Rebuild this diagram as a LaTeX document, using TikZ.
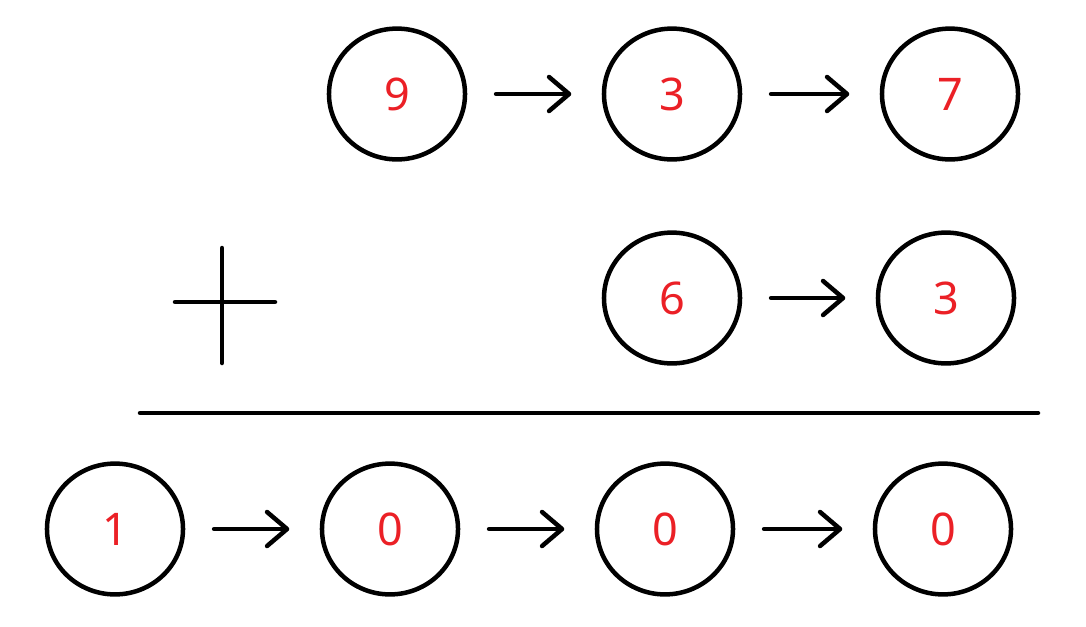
\documentclass[tikz,border=0pt]{standalone}
\usepackage{fontspec}
\setmainfont{Noto Sans}
\usetikzlibrary{arrows.meta,shapes.geometric}
\definecolor{digitred}{RGB}{235,32,38}
\tikzset{
	digit/.style={ellipse,draw,line width=3.2pt,minimum width=3.4cm,minimum height=3.27cm,inner sep=0pt,text=digitred,font=\fontsize{32}{32}\selectfont},
	carry/.style={line width=3.2pt,line cap=round,-{Straight Barb[length=0.5cm,width=0.85cm,line cap=round,round]},shorten <=0.72cm,shorten >=0.76cm},
	rule/.style={line width=3.2pt,line cap=round}
}
\begin{document}
\begin{tikzpicture}[x=0.025cm,y=-0.025cm]
		\useasboundingbox (0,0) rectangle (1086,626);
		
		\node[digit] (a1) at (397,94) {9};
		\node[digit] (a2) at (672,94) {3};
		\node[digit] (a3) at (950,94) {7};
		
		\node[digit] (b2) at (672,298) {6};
		\node[digit] (b3) at (946,298) {3};
		
		\node[digit] (c0) at (115,529) {1};
		\node[digit] (c1) at (390,529) {0};
		\node[digit] (c2) at (665,529) {0};
		\node[digit] (c3) at (943,529) {0};
		
		\draw[carry] (a1) -- (a2);
		\draw[carry] (a2) -- (a3);
		\draw[carry] (b2) -- (b3);
		\draw[carry] (c0) -- (c1);
		\draw[carry] (c1) -- (c2);
		\draw[carry] (c2) -- (c3);
		
		\draw[rule] (175,302) -- (275,302);
		\draw[rule] (222,248) -- (222,363);
		\draw[rule] (140,413) -- (1038,413);
		
	\end{tikzpicture}
\end{document}
